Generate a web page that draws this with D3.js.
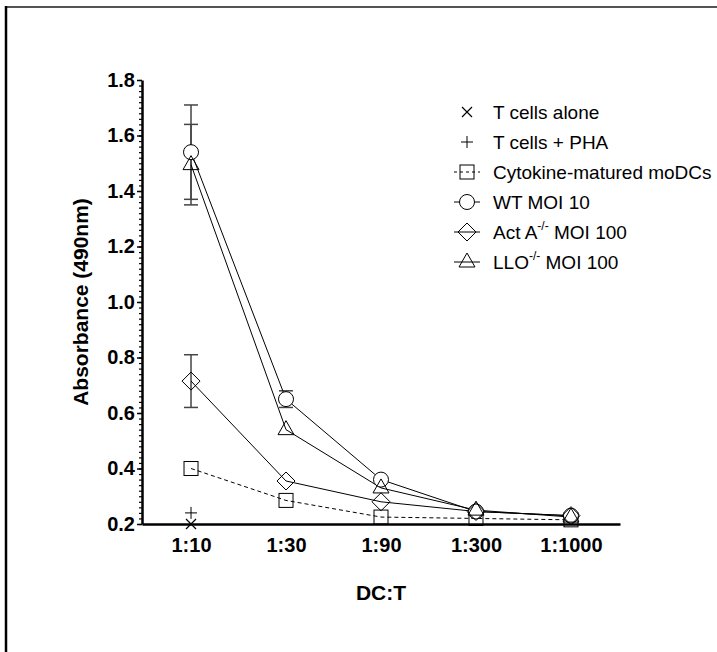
<!DOCTYPE html>
<html>
<head>
<meta charset="utf-8">
<script src="https://cdn.jsdelivr.net/npm/d3@7"></script>
<style>
  body { margin: 0; background: #fff; }
  text { font-family: Arial, "Liberation Sans", sans-serif; }
</style>
</head>
<body>
<div id="chart"></div>
<script>
// ratios on the x axis
const ratios = ['1:10', '1:30', '1:90', '1:300', '1:1000'];
const yTicks = [0.2, 0.4, 0.6, 0.8, 1.0, 1.2, 1.4, 1.6, 1.8];

// series (mean absorbance per ratio)
const tAlone = [0.20];
const tPha = [0.24];
const cytokine = [0.40, 0.285, 0.225, 0.22, 0.215];
const wt = [1.54, 0.65, 0.36, 0.245, 0.23];
const actA = [0.715, 0.355, 0.28, 0.245, 0.23];
const llo = [1.495, 0.54, 0.33, 0.25, 0.225];

// error bar half-widths
const wtErr = [0.17, 0.03, 0, 0, 0];
const actAErr = [0.095, 0, 0, 0, 0];
const lloErr = [0.145, 0, 0, 0, 0];

const legendNames = ['T cells alone', 'T cells + PHA', 'Cytokine-matured moDCs', 'WT MOI 10', 'Act A', 'LLO'];

const width = 717, height = 652;
const margin = { left: 142, top: 80, right: 620, bottom: 524 };

const svg = d3.select('#chart').append('svg')
    .attr('width', width)
    .attr('height', height);

// outer frame (only top and left edges fall inside the picture)
svg.append('line')
    .attr('x1', 6).attr('x2', width).attr('y1', 7).attr('y2', 7)
    .attr('stroke', '#555').attr('stroke-width', 2);
svg.append('line')
    .attr('x1', 6).attr('x2', 6).attr('y1', 6).attr('y2', height)
    .attr('stroke', '#000').attr('stroke-width', 2.5);

const x = d3.scalePoint()
    .domain(ratios)
    .range([margin.left, margin.right])
    .padding(0.516);

const y = d3.scaleLinear()
    .domain([0.2, 1.8])
    .range([margin.bottom, margin.top]);

// y axis with minor ticks
const minor = d3.range(0.2, 1.8001, 0.02);
svg.append('g')
    .attr('transform', 'translate(' + margin.left + ',0)')
    .call(d3.axisLeft(y).tickValues(minor).tickSize(3).tickFormat(''))
    .call(g => g.select('.domain').remove())
    .call(g => g.selectAll('line').attr('stroke-width', 1.2));

const yAxis = svg.append('g')
    .attr('transform', 'translate(' + margin.left + ',0)')
    .call(d3.axisLeft(y).tickValues(yTicks).tickSize(5).tickSizeOuter(0).tickPadding(2).tickFormat(d3.format('.1f')));
yAxis.select('.domain').attr('stroke-width', 2.5);
yAxis.selectAll('line').attr('stroke-width', 1.5);
yAxis.selectAll('text')
    .attr('font-size', 20).attr('font-weight', 'bold');

// x axis
const xAxis = svg.append('g')
    .attr('transform', 'translate(0,' + margin.bottom + ')')
    .call(d3.axisBottom(x).tickSize(0).tickSizeOuter(0).tickPadding(14));
xAxis.select('.domain').attr('stroke-width', 2.5);
xAxis.selectAll('text').attr('font-size', 20).attr('font-weight', 'bold');

// axis titles
svg.append('text')
    .attr('transform', 'translate(88,' + ((margin.top + margin.bottom) / 2) + ') rotate(-90)')
    .attr('text-anchor', 'middle')
    .attr('font-size', 21).attr('font-weight', 'bold')
    .text('Absorbance (490nm)');

svg.append('text')
    .attr('x', (margin.left + margin.right) / 2)
    .attr('y', 600)
    .attr('text-anchor', 'middle')
    .attr('font-size', 21).attr('font-weight', 'bold')
    .text('DC:T');

// marker drawing
function marker(g, type, cx, cy) {
  if (type === 'circle') {
    g.append('circle').attr('cx', cx).attr('cy', cy).attr('r', 7.5)
        .attr('fill', '#fff').attr('stroke', '#000');
  } else if (type === 'square') {
    g.append('rect').attr('x', cx - 7).attr('y', cy - 7).attr('width', 14).attr('height', 14)
        .attr('fill', 'none').attr('stroke', '#000');
  } else if (type === 'diamond') {
    g.append('path').attr('d', 'M0,-9L9,0L0,9L-9,0Z')
        .attr('transform', 'translate(' + cx + ',' + cy + ')')
        .attr('fill', 'none').attr('stroke', '#000');
  } else if (type === 'triangle') {
    g.append('path').attr('d', 'M0,-9L8,5L-8,5Z')
        .attr('transform', 'translate(' + cx + ',' + cy + ')')
        .attr('fill', 'none').attr('stroke', '#000');
  } else if (type === 'cross') {
    g.append('path').attr('d', 'M-5,-5L5,5M-5,5L5,-5')
        .attr('transform', 'translate(' + cx + ',' + cy + ')')
        .attr('fill', 'none').attr('stroke', '#000').attr('stroke-width', 1.2);
  } else if (type === 'plus') {
    g.append('path').attr('d', 'M-6,0L6,0M0,-6L0,6')
        .attr('transform', 'translate(' + cx + ',' + cy + ')')
        .attr('fill', 'none').attr('stroke', '#000').attr('stroke-width', 1);
  }
}

const series = [
  { vals: tAlone, err: null, type: 'cross', dash: null },
  { vals: tPha, err: null, type: 'plus', dash: null },
  { vals: cytokine, err: null, type: 'square', dash: '4,3' },
  { vals: wt, err: wtErr, type: 'circle', dash: null },
  { vals: actA, err: actAErr, type: 'diamond', dash: null },
  { vals: llo, err: lloErr, type: 'triangle', dash: null }
];

const line = d3.line()
    .x((d, i) => x(ratios[i]))
    .y(d => y(d));

const plot = svg.append('g');

// error bars
series.forEach(s => {
  if (!s.err) return;
  s.vals.forEach((v, i) => {
    const e = s.err[i];
    if (!e) return;
    const cx = x(ratios[i]);
    const eb = plot.append('g').attr('stroke', '#444').attr('stroke-width', 1.5);
    eb.append('line').attr('x1', cx).attr('x2', cx).attr('y1', y(v - e)).attr('y2', y(v + e));
    eb.append('line').attr('x1', cx - 7).attr('x2', cx + 7).attr('y1', y(v - e)).attr('y2', y(v - e));
    eb.append('line').attr('x1', cx - 7).attr('x2', cx + 7).attr('y1', y(v + e)).attr('y2', y(v + e));
  });
});

// connecting lines
series.forEach(s => {
  if (s.vals.length < 2) return;
  plot.append('path')
      .attr('d', line(s.vals))
      .attr('fill', 'none')
      .attr('stroke', '#000')
      .attr('stroke-width', 1)
      .attr('stroke-dasharray', s.dash);
});

// markers
series.forEach(s => {
  s.vals.forEach((v, i) => marker(plot, s.type, x(ratios[i]), y(v)));
});

// legend
const legend = svg.append('g');
const legX = 467, legText = 493;
series.forEach((s, i) => {
  const ly = 112 + i * 30;
  if (s.type !== 'cross' && s.type !== 'plus') {
    legend.append('line')
        .attr('x1', legX - 13).attr('x2', legX + 13)
        .attr('y1', ly).attr('y2', ly)
        .attr('stroke', '#000')
        .attr('stroke-dasharray', s.dash ? '3,3' : null);
  }
  marker(legend, s.type, legX, ly);
  const t = legend.append('text')
      .attr('x', legText).attr('y', ly + 7)
      .attr('font-size', 19);
  if (i === 4 || i === 5) {
    t.append('tspan').text(legendNames[i]);
    t.append('tspan').attr('font-size', 12).attr('dy', -9).text('-/-');
    t.append('tspan').attr('dy', 9).text(' MOI 100');
  } else {
    t.text(legendNames[i]);
  }
});
</script>
</body>
</html>
